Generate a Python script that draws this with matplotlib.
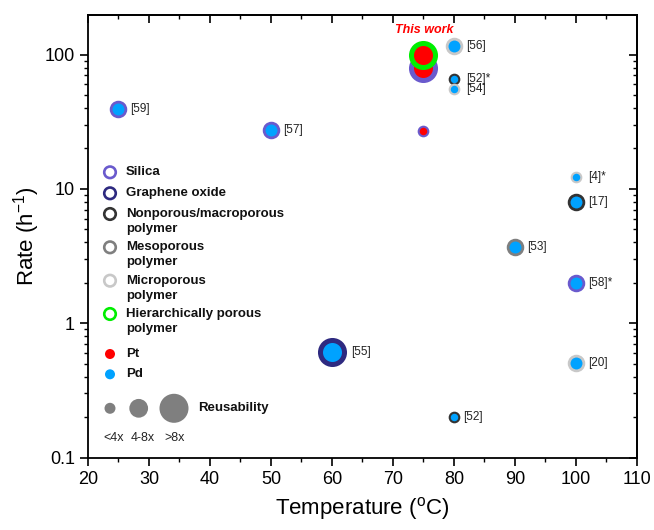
import matplotlib
matplotlib.use("Agg")
import matplotlib.pyplot as plt
from matplotlib.ticker import FixedLocator, FixedFormatter, LogLocator, MultipleLocator, NullFormatter

plt.rcParams['font.family'] = ['Liberation Sans', 'DejaVu Sans']
plt.rcParams['mathtext.fontset'] = 'custom'
plt.rcParams['mathtext.rm'] = 'Liberation Sans'
plt.rcParams['mathtext.it'] = 'Liberation Sans:italic'
plt.rcParams['mathtext.default'] = 'regular'

# ---------------- data ----------------
temps = [25, 50, 75, 75, 75, 80, 80, 80, 100, 100, 90, 100, 100, 60, 80]
rates = [39, 27.4, 79, 100, 27, 116, 66, 55, 12.3, 8.0, 3.66, 1.98, 0.507, 0.607, 0.2]
support = ['Silica', 'Silica', 'Silica', 'Hierarchical', 'Silica', 'Microporous', 'Nonporous',
           'Microporous', 'Microporous', 'Nonporous', 'Mesoporous', 'Silica', 'Microporous',
           'Graphene oxide', 'Nonporous']
metal = ['Pd', 'Pd', 'Pt', 'Pt', 'Pt', 'Pd', 'Pd', 'Pd', 'Pd', 'Pd', 'Pd', 'Pd', 'Pd', 'Pd', 'Pd']
reuse = ['4-8x', '4-8x', '>8x', '>8x', '<4x', '4-8x', '<4x', '<4x', '<4x', '4-8x', '4-8x',
         '4-8x', '4-8x', '>8x', '<4x']
labels = ['[59]', '[57]', '', 'This work', '', '[56]', '[52]*', '[54]', '[4]*', '[17]', '[53]',
          '[58]*', '[20]', '[55]', '[52]']

legend_supports = ['Silica', 'Graphene oxide', 'Nonporous/macroporous\npolymer',
                   'Mesoporous\npolymer', 'Microporous\npolymer', 'Hierarchically porous\npolymer']
legend_metals = ['Pt', 'Pd']
legend_reuse = ['<4x', '4-8x', '>8x']

xticks = [20, 30, 40, 50, 60, 70, 80, 90, 100, 110]
yticks = [0.1, 1, 10, 100]
ytick_labels = ['0.1', '1', '10', '100']

# ---------------- styles ----------------
support_colors = {'Silica': '#6a5acd', 'Graphene oxide': '#2e2a80', 'Nonporous': '#333333',
                  'Mesoporous': '#7f7f7f', 'Microporous': '#c8c8c8', 'Hierarchical': '#00ee00'}
legend_support_keys = ['Silica', 'Graphene oxide', 'Nonporous', 'Mesoporous', 'Microporous',
                       'Hierarchical']
metal_colors = {'Pt': '#ff0000', 'Pd': '#00a2ff'}
# (marker diameter pt, edge width pt)
size_style = {'<4x': (6.9, 1.5), '4-8x': (10.6, 2.0), '>8x': (17.3, 3.6)}
legend_outer = {'<4x': 7.9, '4-8x': 13.5, '>8x': 20.9}
label_offsets = {'[55]': (19, 0), '[52]': (9, 0), 'This work': (1, 25)}

W, H = 654, 530
fig = plt.figure(figsize=(W / 100, H / 100), dpi=100)
L, R, T, B = 88, 637, 15, 457.5
ax = fig.add_axes([L / W, 1 - B / H, (R - L) / W, (B - T) / H])
ax.set_xlim(20, 110)
ax.set_yscale('log')
ax.set_ylim(0.1, 197)

for t, r, s, m, u, lab in zip(temps, rates, support, metal, reuse, labels):
    d, lw = size_style[u]
    ax.scatter([t], [r], s=d ** 2, facecolor=metal_colors[m], edgecolor=support_colors[s],
               linewidths=lw, zorder=3)
    if lab:
        if lab == 'This work':
            dx, dy = label_offsets[lab]
            ax.annotate(lab, (t, r), xytext=(dx, dy), textcoords='offset pixels',
                        ha='center', va='center', fontsize=9, color='red',
                        fontweight='bold', fontstyle='italic')
        else:
            dx, dy = label_offsets.get(lab, (12, 0))
            ax.annotate(lab, (t, r), xytext=(dx, dy), textcoords='offset pixels',
                        ha='left', va='center', fontsize=8.5, color='#222222')

# ---------------- custom legend ----------------
def ax_xy(px, py):
    return (px - L) / (R - L), (B - py) / (B - T)

sup_y = [172.3, 193.3, 214, 247.3, 280.7, 314]
for key, text, py in zip(legend_support_keys, legend_supports, sup_y):
    x0, y0 = ax_xy(110, py)
    ax.scatter([x0], [y0], s=8.3 ** 2, facecolor='none', edgecolor=support_colors[key],
               linewidths=1.9, transform=ax.transAxes, clip_on=False, zorder=4)
    for i, line in enumerate(text.split('\n')):
        x1, y1 = ax_xy(126, py + 15 * i)
        ax.text(x1, y1, line, transform=ax.transAxes, ha='left', va='center', fontsize=9.5,
                fontweight='bold', color='#111111')

met_y = [354, 374.3]
for mkey, py in zip(legend_metals, met_y):
    x0, y0 = ax_xy(110, py)
    ax.scatter([x0], [y0], s=7.2 ** 2, facecolor=metal_colors[mkey], edgecolor='none',
               transform=ax.transAxes, clip_on=False, zorder=4)
    x1, y1 = ax_xy(126, py)
    ax.text(x1, y1, mkey, transform=ax.transAxes, ha='left', va='center', fontsize=9.5,
            fontweight='bold', color='#111111')

reuse_x = [110, 138.7, 174]
reuse_lab_x = [114, 142.7, 174.3]
for key, px, plx in zip(legend_reuse, reuse_x, reuse_lab_x):
    x0, y0 = ax_xy(px, 408.3)
    ax.scatter([x0], [y0], s=legend_outer[key] ** 2, facecolor='#7f7f7f', edgecolor='none',
               transform=ax.transAxes, clip_on=False, zorder=4)
    x1, y1 = ax_xy(plx, 437.7)
    ax.text(x1, y1, key, transform=ax.transAxes, ha='center', va='center', fontsize=9,
            color='#222222')
x1, y1 = ax_xy(198, 408.3)
ax.text(x1, y1, 'Reusability', transform=ax.transAxes, ha='left', va='center', fontsize=9.5,
        fontweight='bold', color='#111111')

# ---------------- axes ----------------
for sp in ax.spines.values():
    sp.set_linewidth(1.3)

ax.xaxis.set_major_locator(FixedLocator(xticks))
ax.xaxis.set_minor_locator(MultipleLocator(5))
ax.yaxis.set_major_locator(FixedLocator(yticks))
ax.yaxis.set_major_formatter(FixedFormatter(ytick_labels))
ax.yaxis.set_minor_locator(LogLocator(base=10, subs=range(2, 10)))
ax.yaxis.set_minor_formatter(NullFormatter())
ax.tick_params(which='major', direction='out', length=5.5, width=1.2, labelsize=13, pad=4)
ax.tick_params(which='minor', direction='out', length=3, width=1.0)

secx = ax.secondary_xaxis('top')
secx.xaxis.set_major_locator(FixedLocator(xticks))
secx.xaxis.set_minor_locator(MultipleLocator(5))
secx.tick_params(which='major', direction='in', length=5.5, width=1.2, labeltop=False)
secx.tick_params(which='minor', direction='in', length=3, width=1.0)
secx.spines['top'].set_linewidth(1.3)

secy = ax.secondary_yaxis('right')
secy.yaxis.set_major_locator(FixedLocator(yticks))
secy.yaxis.set_minor_locator(LogLocator(base=10, subs=range(2, 10)))
secy.yaxis.set_minor_formatter(NullFormatter())
secy.tick_params(which='major', direction='in', length=5.5, width=1.2, labelright=False)
secy.tick_params(which='minor', direction='in', length=3, width=1.0)
secy.spines['right'].set_linewidth(1.3)

ax.set_xlabel('Temperature ($^{o}$C)', fontsize=16, labelpad=5)
ax.set_ylabel('Rate (h$^{-1}$)', fontsize=16, labelpad=2)

fig.savefig('out.png', dpi=100)
